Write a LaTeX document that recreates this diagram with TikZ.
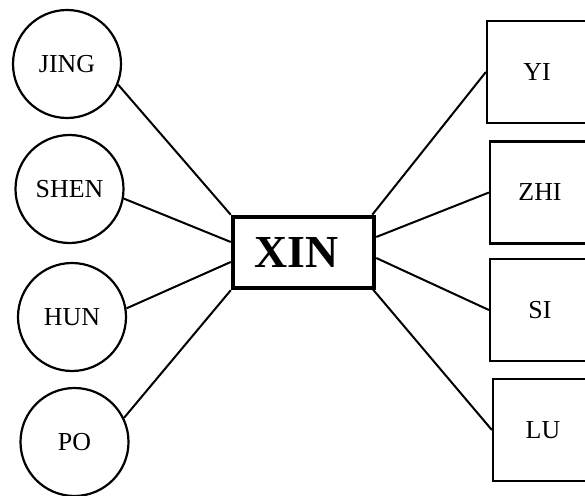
\documentclass[tikz,border=0pt]{standalone}
\usepackage{fontspec}
\setmainfont{Liberation Serif}
\begin{document}
\begin{tikzpicture}[x=1bp,y=-1bp,
  spirit/.style={circle,draw,line width=2.2bp,minimum size=108bp,inner sep=0pt,
    font=\fontsize{26}{30}\selectfont},
  faculty/.style={rectangle,draw,line width=2.2bp,minimum width=100bp,minimum height=102bp,
    inner sep=0pt,font=\fontsize{26}{30}\selectfont},
  heart/.style={rectangle,draw,line width=4.5bp,minimum width=141bp,minimum height=71bp,
    inner sep=0pt,font=\bfseries\fontsize{46}{50}\selectfont},
  link/.style={line width=2bp}]
\clip (0,0) rectangle (585,496);
\useasboundingbox (0,0) rectangle (585,496);

% central node, its label set a little left of centre
\node[heart] (xin) at (303.5,252.5) {XIN\kern14bp\relax};

% left column: circles
\node[spirit] (jing) at (67,64) {JING};
\node[spirit] (shen) at (69.5,189) {SHEN};
\node[spirit] (hun)  at (72,317) {HUN};
\node[spirit] (po)   at (74.5,442) {PO};

% right column: boxes
\node[faculty] (yi)  at (537,72)  {YI};
\node[faculty] (zhi) at (540,192.5) {ZHI};
\node[faculty] (si)  at (540,310) {SI};
\node[faculty] (lu)  at (543,430) {LU};

% connectors
\draw[link] (jing.-22) -- (xin.north west);
\draw[link] (shen.-10) -- ([yshift=10.5bp]xin.west);
\draw[link] (hun.9)    -- ([yshift=-9.5bp]xin.west);
\draw[link] (po.26)    -- (xin.south west);
\draw[link] ([xshift=-4bp]xin.north east) -- (yi.west);
\draw[link] ([yshift=15.5bp]xin.east) -- (zhi.west);
\draw[link] ([yshift=-5.5bp]xin.east) -- (si.west);
\draw[link] ([xshift=-6bp,yshift=4bp]xin.south east) -- (lu.west);
\end{tikzpicture}
\end{document}
